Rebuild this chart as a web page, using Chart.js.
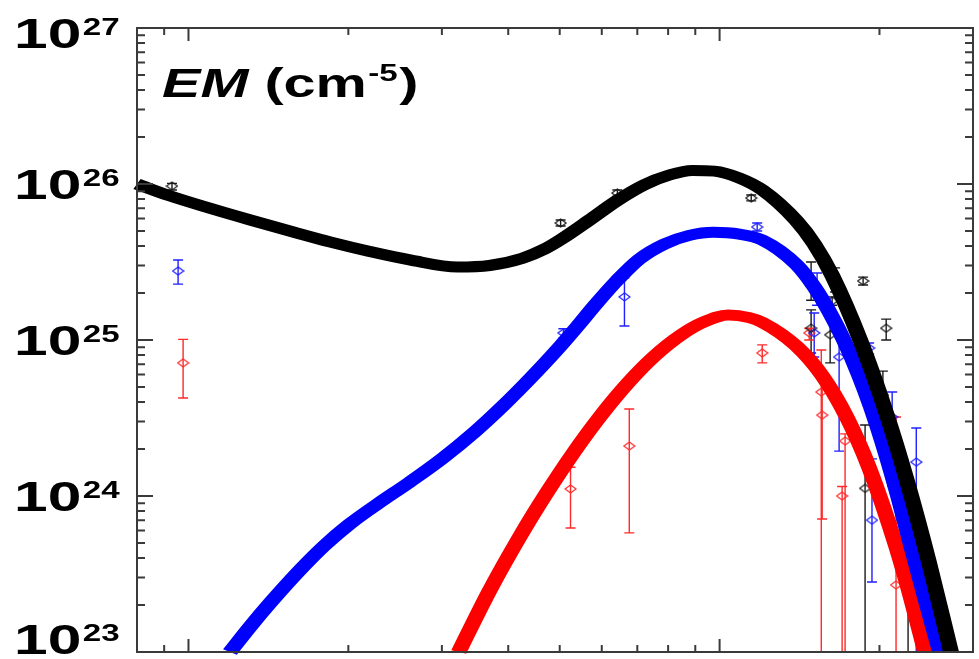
<!DOCTYPE html>
<html><head><meta charset="utf-8">
<script src="https://cdn.jsdelivr.net/npm/chart.js@4.4.0/dist/chart.umd.min.js"></script>
<style>html,body{margin:0;padding:0;background:#fff;}canvas{display:block;}</style>
</head><body>
<canvas id="c" width="979" height="659"></canvas>
<script>
// ---- Model curves (T in MK, EM in cm^-5) ----
const blackCurveT  = [0.8, 0.923, 1.098, 1.305, 1.572, 1.845, 2.194, 2.61, 3.213, 3.689, 4.256, 4.682, 5.017, 5.689, 6.423, 7.22, 8.044, 8.886, 9.773, 10.89, 12.03, 13.94, 15.07, 16.29, 18.39, 20.58, 22.44, 24.8, 27.27];
const blackCurveEM = [1.0e26, 8.388e25, 6.986e25, 5.887e25, 4.932e25, 4.254e25, 3.693e25, 3.262e25, 2.934e25, 3.004e25, 3.345e25, 3.831e25, 4.395e25, 5.878e25, 7.851e25, 9.897e25, 1.142e26, 1.222e26, 1.21e26, 1.094e26, 9.167e25, 5.834e25, 4.13e25, 2.595e25, 1.003e25, 3.424e24, 1.312e24, 3.736e23, 1.0e23];
const blueCurveT   = [1.197, 1.305, 1.429, 1.62, 1.806, 2.012, 2.282, 2.61, 3.01, 3.458, 3.92, 4.386, 4.931, 5.4, 5.838, 6.423, 7.063, 7.871, 8.771, 9.731, 10.89, 12.03, 13.94, 15.07, 16.08, 17.16, 18.31, 19.29, 20.58, 21.68, 22.74, 24.27, 26.0];
const blueCurveEM  = [1.0e23, 1.447e23, 2.085e23, 3.34e23, 4.831e23, 6.615e23, 9.005e23, 1.229e24, 1.747e24, 2.572e24, 3.815e24, 5.599e24, 8.577e24, 1.226e25, 1.686e25, 2.424e25, 3.3e25, 4.118e25, 4.683e25, 4.903e25, 4.774e25, 4.382e25, 3.053e25, 2.19e25, 1.521e25, 9.868e24, 5.93e24, 3.677e24, 1.851e24, 9.956e23, 5.372e23, 2.34e23, 1.0e23];
const redCurveT    = [3.227, 3.689, 4.219, 4.744, 5.33, 5.94, 6.735, 7.54, 8.472, 9.359, 10.38, 11.37, 12.03, 13.94, 15.6, 17.31, 19.12, 21.49, 22.93, 24.37];
const redCurveEM   = [1.0e23, 2.475e23, 5.582e23, 1.067e24, 1.934e24, 3.195e24, 5.34e24, 7.884e24, 1.081e25, 1.308e25, 1.447e25, 1.392e25, 1.299e25, 9.167e24, 5.913e24, 3.257e24, 1.521e24, 4.774e23, 2.215e23, 1.0e23];

// ---- Measured points with error bars ----
const blackPtT  = [0.931, 5.02, 6.42, 11.47, 14.18, 14.87, 14.87, 16.5, 16.29, 16.15, 18.63, 20.59, 20.3, 18.79, 22.64];
const blackPtEM = [9.7e25, 5.62e25, 8.75e25, 8.13e25, 5.54e25, 2.22e25, 1.19e25, 2.43e25, 1.78e25, 1.08e25, 2.39e25, 1.19e25, 4.44e24, 1.12e24, 4.25e23];
const blackPtLo = [9.16e25, 5.38e25, 8.36e25, 7.8e25, 5.3e25, 1.8e25, 8.26e24, 2.03e25, 1.67e25, 7.13e24, 2.25e25, 1.0e25, 3.07e24, 1e22, 1e22];
const blackPtHi = [1.01e26, 5.88e25, 9.16e25, 8.5e25, 5.8e25, 3.16e25, 1.56e25, 2.9e25, 1.89e25, 1.49e25, 2.53e25, 1.36e25, 6.32e24, 2.85e24, 6.3e23];

const bluePtT  = [0.956, 5.08, 6.62, 11.77, 14.55, 15.26, 15.07, 16.79, 19.12, 21.13, 19.36, 23.46];
const bluePtEM = [2.77e25, 1.11e25, 1.89e25, 5.3e25, 4.85e25, 2.09e25, 1.11e25, 7.78e24, 8.88e24, 3.21e24, 7.0e23, 1.65e24];
const bluePtLo = [2.28e25, 1.03e25, 1.23e25, 5.0e25, 4.6e25, 1.67e25, 7.78e24, 1.94e24, 8.13e24, 1.16e24, 2.81e23, 1e22];
const bluePtHi = [3.26e25, 1.18e25, 2.5e25, 5.62e25, 5.1e25, 2.69e25, 1.49e25, 1.21e25, 9.57e24, 4.64e24, 1.73e24, 2.73e24];

const redPtT  = [0.977, 5.24, 6.76, 12.03, 14.75, 15.54, 15.6, 17.23, 17.01, 21.49];
const redPtEM = [7.13e24, 1.11e24, 2.09e24, 8.26e24, 1.11e25, 4.64e24, 3.3e24, 2.25e24, 1.0e24, 2.69e23];
const redPtLo = [4.25e24, 6.24e23, 5.8e23, 7.13e24, 1.0e25, 1e22, 7.12e23, 1e22, 1e22, 1e22];
const redPtHi = [1.01e25, 1.53e24, 3.61e24, 9.3e24, 1.19e25, 8.63e24, 5.55e24, 2.5e24, 1.15e24, 3.21e24];

// ---- Axes ----
const xMin = 0.8, xMax = 30;
const yMin = 1e23, yMax = 1e27;
const xMajorTicks = [1, 10];
const xMinorTicks = [0.9, 2, 3, 4, 5, 6, 7, 8, 9, 20];
const yMajorTicks = [1e23, 1e24, 1e25, 1e26, 1e27];
const yTickExponents = ['23', '24', '25', '26', '27'];
const yMinorMultipliers = [2, 3, 4, 5, 6, 7, 8, 9];

const BLACK = '#000000', BLUE = '#0000ff', RED = '#ff0000';
const BLACK_ERR = '#1a1a1a', BLUE_ERR = '#2020ff', RED_ERR = '#ff2a2a';
const SX = 1.44;      // horizontal stretch of lettering and pen
const CURVE_W = 11;

function pts(T, E) { return T.map((t, i) => ({ x: t, y: E[i] })); }
function diamond(color) {
  const c = document.createElement('canvas'); c.width = 13; c.height = 10;
  const g = c.getContext('2d'); g.strokeStyle = color; g.lineWidth = 1.2;
  g.beginPath(); g.moveTo(6.5, 1); g.lineTo(12, 5); g.lineTo(6.5, 9); g.lineTo(1, 5); g.closePath(); g.stroke();
  return c;
}

const errSets = [
  { T: blackPtT, lo: blackPtLo, hi: blackPtHi, color: BLACK_ERR },
  { T: bluePtT, lo: bluePtLo, hi: bluePtHi, color: BLUE_ERR },
  { T: redPtT, lo: redPtLo, hi: redPtHi, color: RED_ERR }
];

const deco = {
  id: 'deco',
  beforeDatasetsDraw(chart) {
    const { ctx, chartArea: a, scales: { x, y } } = chart;
    ctx.save();
    ctx.beginPath(); ctx.rect(a.left, a.top, a.right - a.left, a.bottom - a.top); ctx.clip();
    ctx.lineWidth = 1.4;
    errSets.forEach(s => {
      ctx.strokeStyle = s.color;
      s.T.forEach((t, i) => {
        const px = x.getPixelForValue(t);
        const p1 = y.getPixelForValue(s.hi[i]);
        const p2 = y.getPixelForValue(s.lo[i]);
        ctx.beginPath(); ctx.moveTo(px, p1); ctx.lineTo(px, p2);
        [p1, p2].forEach(p => { if (p >= a.top && p <= a.bottom - 1) { ctx.moveTo(px - 5, p); ctx.lineTo(px + 5, p); } });
        ctx.stroke();
      });
    });
    ctx.restore();
  },
  afterDatasetsDraw(chart) {
    // stroke the model curves from the library's own point/control-point positions,
    // with a horizontally stretched pen
    const { ctx } = chart;
    chart.data.datasets.forEach((ds, i) => {
      if (!ds.isCurve) return;
      const els = chart.getDatasetMeta(i).data;
      ctx.save();
      ctx.scale(SX, 1);
      ctx.beginPath();
      ctx.moveTo(els[0].x / SX, els[0].y);
      for (let k = 1; k < els.length; k++) {
        const p = els[k - 1], q = els[k];
        ctx.bezierCurveTo(p.cp2x / SX, p.cp2y, q.cp1x / SX, q.cp1y, q.x / SX, q.y);
      }
      ctx.lineWidth = CURVE_W;
      ctx.lineJoin = 'round';
      ctx.lineCap = 'butt';
      ctx.strokeStyle = ds.curveColor;
      ctx.stroke();
      ctx.restore();
    });
  },
  afterDraw(chart) {
    const { ctx, chartArea: a, scales: { x, y } } = chart;
    ctx.save();
    ctx.strokeStyle = '#3a3a3a';
    ctx.lineWidth = 2;
    ctx.strokeRect(a.left, a.top, a.right - a.left, a.bottom - a.top);
    ctx.beginPath();
    const xt = (v, len) => { const p = x.getPixelForValue(v); ctx.moveTo(p, a.bottom); ctx.lineTo(p, a.bottom - len); ctx.moveTo(p, a.top); ctx.lineTo(p, a.top + len); };
    xMinorTicks.forEach(v => xt(v, 7));
    xMajorTicks.forEach(v => xt(v, 13));
    const yt = (v, len) => { const p = y.getPixelForValue(v); ctx.moveTo(a.left, p); ctx.lineTo(a.left + len, p); ctx.moveTo(a.right, p); ctx.lineTo(a.right - len, p); };
    yMajorTicks.forEach((v, i) => {
      yt(v, 16);
      if (i < yMajorTicks.length - 1) yMinorMultipliers.forEach(m => yt(v * m, 8));
    });
    ctx.stroke();

    // y tick labels 10^n
    ctx.fillStyle = '#000';
    ctx.textBaseline = 'alphabetic';
    yMajorTicks.forEach((v, i) => {
      const py = y.getPixelForValue(v);
      const base = Math.min(Math.max(py + 15, 48), 654);
      ctx.save(); ctx.translate(14, base); ctx.scale(SX, 1);
      ctx.font = 'bold 42px "Liberation Sans", Arial, sans-serif';
      ctx.fillText('10', 0, 0);
      const w = ctx.measureText('10').width;
      ctx.font = 'bold 23px "Liberation Sans", Arial, sans-serif';
      ctx.fillText(yTickExponents[i], w + 1, -13.5);
      ctx.restore();
    });

    // in-plot title: EM (cm^-5)
    ctx.save(); ctx.translate(162, 97); ctx.scale(SX, 1);
    let cx = 0;
    ctx.font = 'italic bold 40px "Liberation Sans", Arial, sans-serif';
    ctx.fillText('EM', cx, 0); cx += ctx.measureText('EM').width;
    ctx.font = 'bold 40px "Liberation Sans", Arial, sans-serif';
    ctx.fillText(' (cm', cx, 0); cx += ctx.measureText(' (cm').width;
    ctx.font = 'bold 23px "Liberation Sans", Arial, sans-serif';
    ctx.fillText('-5', cx + 1, -16); cx += ctx.measureText('-5').width + 2;
    ctx.font = 'bold 40px "Liberation Sans", Arial, sans-serif';
    ctx.fillText(')', cx, 0);
    ctx.restore();
    ctx.restore();
  }
};

const curve = (T, E, color) => ({
  data: pts(T, E), isCurve: true, curveColor: color,
  borderColor: 'rgba(0,0,0,0)', backgroundColor: 'rgba(0,0,0,0)', borderWidth: 0,
  pointRadius: 0, cubicInterpolationMode: 'monotone', fill: false, clip: false
});
const points = (T, E, color) => ({
  data: pts(T, E), showLine: false, pointStyle: diamond(color), pointRadius: 5,
  borderColor: color, backgroundColor: 'transparent', clip: false
});

new Chart(document.getElementById('c'), {
  type: 'line',
  data: {
    datasets: [
      curve(redCurveT, redCurveEM, RED),
      curve(blueCurveT, blueCurveEM, BLUE),
      curve(blackCurveT, blackCurveEM, BLACK),
      points(blackPtT, blackPtEM, BLACK_ERR),
      points(bluePtT, bluePtEM, BLUE_ERR),
      points(redPtT, redPtEM, RED_ERR)
    ]
  },
  options: {
    responsive: false, animation: false, devicePixelRatio: 1,
    layout: { padding: { left: 137, right: 5, top: 28, bottom: 7 } },
    plugins: { legend: { display: false }, tooltip: { enabled: false } },
    events: [],
    scales: {
      x: { type: 'logarithmic', min: xMin, max: xMax, display: false },
      y: { type: 'logarithmic', min: yMin, max: yMax, display: false }
    }
  },
  plugins: [deco]
});
</script>
</body></html>
